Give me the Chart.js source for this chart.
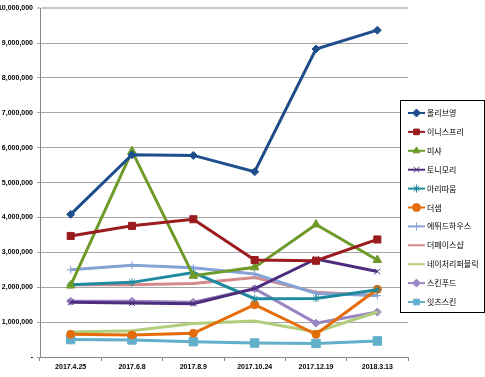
<!DOCTYPE html>
<html>
<head>
<meta charset="utf-8">
<script src="https://cdn.jsdelivr.net/npm/chart.js@4"></script>
<style>
  html, body { margin: 0; padding: 0; background: #fff; }
  #wrap { width: 485px; height: 377px; position: relative; }
</style>
</head>
<body>
<div id="wrap"><canvas id="myChart" width="485" height="377"></canvas></div>
<script>
const labels = ["2017.4.25", "2017.6.8", "2017.8.9", "2017.10.24", "2017.12.19", "2018.3.13"];

const oliveYoung = [4090000, 5800000, 5780000, 5310000, 8830000, 9370000];
const innisfree = [3470000, 3760000, 3950000, 2780000, 2760000, 3370000];
const missha = [2050000, 5900000, 2330000, 2570000, 3800000, 2780000];
const tonymoly = [1570000, 1550000, 1530000, 1960000, 2810000, 2450000];
const aritaum = [2070000, 2140000, 2420000, 1670000, 1680000, 1930000];
const thesaem = [650000, 630000, 680000, 1500000, 650000, 1940000];
const etude = [2500000, 2630000, 2560000, 2380000, 1820000, 1760000];
const faceshop = [2070000, 2070000, 2110000, 2280000, 1860000, 1760000];
const nature = [720000, 750000, 960000, 1030000, 720000, 1290000];
const skinfood = [1600000, 1600000, 1570000, 1960000, 970000, 1290000];
const itsskin = [500000, 490000, 440000, 400000, 390000, 460000];

const yTicks = [0, 1000000, 2000000, 3000000, 4000000, 5000000, 6000000, 7000000, 8000000, 9000000, 10000000];

const series = [
  { name: "올리브영", data: oliveYoung, color: "#1F4E8C", style: "rectRot", r: 4 },
  { name: "이니스프리", data: innisfree, color: "#9A1C1F", style: "rect", r: 5 },
  { name: "미샤", data: missha, color: "#6E9A2A", style: "triangle", r: 5 },
  { name: "토니모리", data: tonymoly, color: "#4E2C7E", style: "crossRot", r: 4 },
  { name: "아리따움", data: aritaum, color: "#1E8AA0", style: "star", r: 4 },
  { name: "더샘", data: thesaem, color: "#E46C0A", style: "circle", r: 4 },
  { name: "에뛰드하우스", data: etude, color: "#86A2D6", style: "cross", r: 4 },
  { name: "더페이스샵", data: faceshop, color: "#D4898A", style: "line", r: 3 },
  { name: "네이처리퍼블릭", data: nature, color: "#B2CD7C", style: "line", r: 3 },
  { name: "스킨푸드", data: skinfood, color: "#9A86C2", style: "rectRot", r: 4 },
  { name: "잇츠스킨", data: itsskin, color: "#62AFCB", style: "rect", r: 6 },
];

// legend drawn inside a bordered box, overlapping the plot's right edge
const legendBox = {
  id: "legendBox",
  afterDraw(chart) {
    const ctx = chart.ctx;
    const x0 = 400, y0 = 100, w = 84, h = 212;
    ctx.save();
    ctx.fillStyle = "#fff";
    ctx.fillRect(x0, y0, w, h);
    ctx.strokeStyle = "#000";
    ctx.lineWidth = 1;
    ctx.strokeRect(x0 + 0.5, y0 + 0.5, w, h);
    ctx.font = "8px 'Noto Sans CJK KR'";
    ctx.textBaseline = "middle";
    series.forEach((s, i) => {
      const y = 113 + i * 18.9;
      ctx.strokeStyle = s.color;
      ctx.lineWidth = 2;
      ctx.beginPath();
      ctx.moveTo(408, y);
      ctx.lineTo(425, y);
      ctx.stroke();
      ctx.fillStyle = s.color;
      ctx.lineWidth = 1;
      Chart.helpers.drawPoint(ctx, { pointStyle: s.style, radius: Math.min(s.r, 4), rotation: 0, borderWidth: 1 }, 416.5, y);
      ctx.fillStyle = "#000";
      ctx.fillText(s.name, 427, y);
    });
    ctx.restore();
  },
};

const ctx = document.getElementById("myChart");

new Chart(ctx, {
  type: "line",
  data: {
    labels: labels,
    datasets: series.map((s) => ({
      label: s.name,
      data: s.data,
      borderColor: s.color,
      backgroundColor: s.color,
      borderWidth: 3,
      pointStyle: s.style,
      pointRadius: s.r,
      pointBorderColor: s.color,
      pointBackgroundColor: s.color,
      pointBorderWidth: 1,
      tension: 0,
    })),
  },
  options: {
    responsive: false,
    animation: false,
    layout: { padding: { left: 0, right: 77, top: 5, bottom: 0 } },
    plugins: { legend: { display: false }, tooltip: { enabled: false } },
    scales: {
      x: {
        offset: true,
        grid: { offset: true, drawOnChartArea: false, drawTicks: true, tickLength: 4, color: "#888" },
        border: { color: "#888" },
        ticks: { font: { family: "Liberation Sans", size: 7, weight: "bold" }, color: "#000", maxRotation: 0, padding: 2 },
        afterFit(scale) { scale.height = 20; },
      },
      y: {
        min: 0,
        max: 10000000,
        afterBuildTicks(scale) { scale.ticks = yTicks.map((v) => ({ value: v })); },
        grid: {
          color: (c) => (c.tick && c.tick.value === 10000000 ? "#C8C8C8" : "#A6A6A6"),
          lineWidth: (c) => (c.tick && c.tick.value === 10000000 ? 2 : 1),
          tickLength: 3,
        },
        border: { color: "#888" },
        ticks: {
          font: { family: "Liberation Sans", size: 7, weight: "bold" },
          color: "#000",
          padding: 4,
          callback: (v) => (v === 0 ? "-" : v.toLocaleString("en-US")),
        },
        afterFit(scale) { scale.width = 40; },
      },
    },
  },
  plugins: [legendBox],
});
</script>
</body>
</html>
